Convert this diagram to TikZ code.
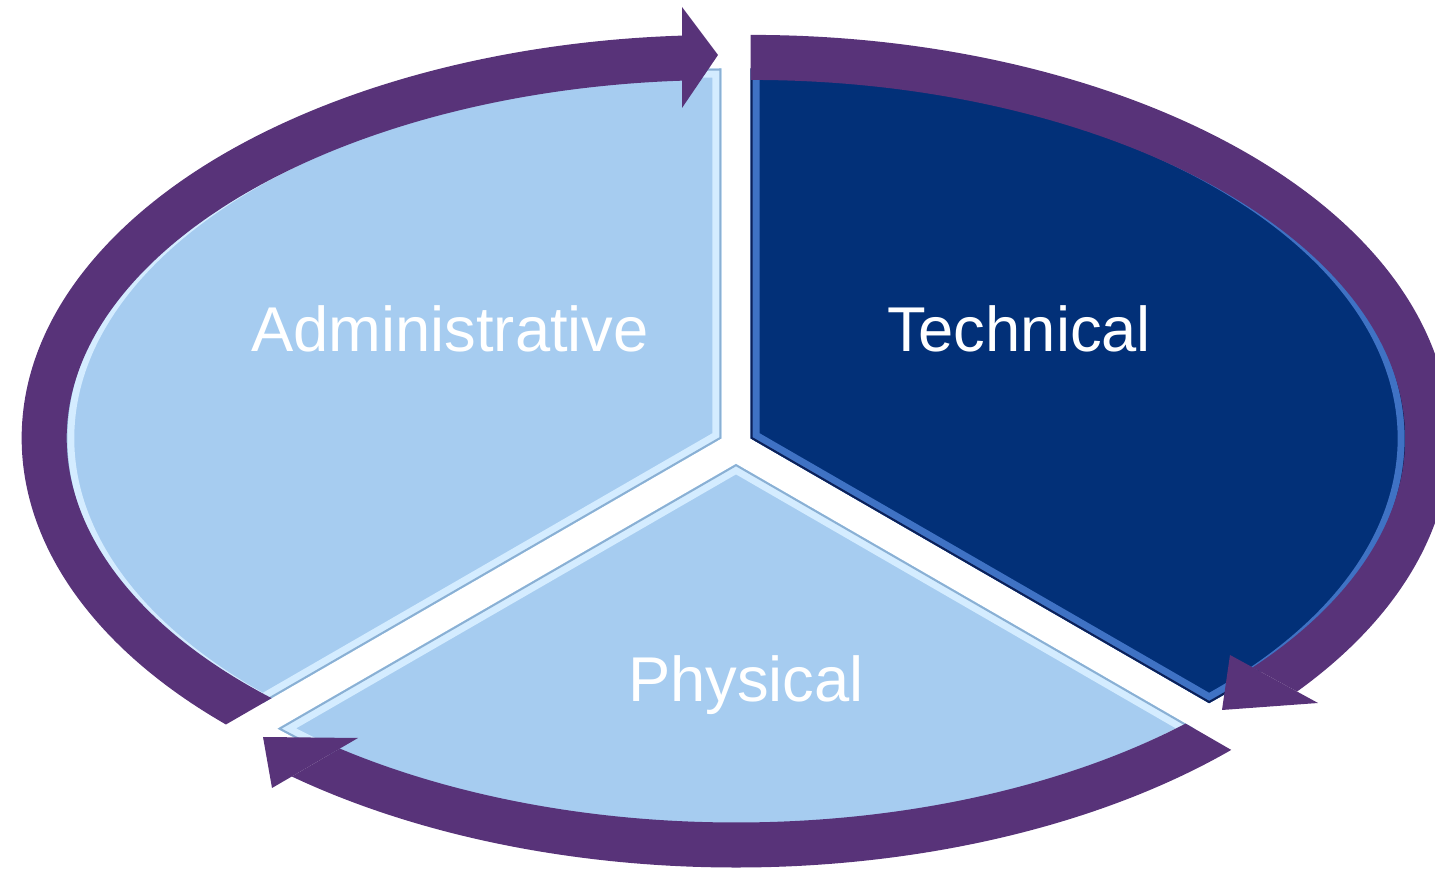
\documentclass[tikz,border=0pt]{standalone}
\usepackage{fontspec}
\setmainfont{Liberation Sans}

\definecolor{paleblue}{HTML}{A6CCF0}
\definecolor{palerim}{HTML}{D4ECFF}
\definecolor{paleedge}{HTML}{8AB0D4}
\definecolor{darkslice}{HTML}{023078}
\definecolor{darkrim}{HTML}{3F72C4}
\definecolor{darkedge}{HTML}{0B2058}
\definecolor{bandpurple}{HTML}{583379}

\tikzset{
  band/.style={bandpurple, line width=0.45cm},
  slicetext/.style={text=white, font=\fontsize{18}{21}\selectfont, anchor=base},
}

\begin{document}
\begin{tikzpicture}[x=0.01cm, y=0.01cm]
	\useasboundingbox (0,0) rectangle (1435,872);
	% the three slices, each pushed out from the middle
	\foreach \sx/\sy/\a/\b/\fc/\rc/\ec in {721.28/433.5/90/225.67/paleblue/palerim/paleedge,
	                                       750.72/433.5/-45.67/90/darkslice/darkrim/darkedge,
	                                       736/408/225.67/314.33/paleblue/palerim/paleedge}{
		\begin{scope}[shift={(\sx,\sy)}]
			\def\slicepath{(0,0) -- (\a:656 and 370) arc[start angle=\a, end angle=\b, x radius=656, y radius=370] -- cycle}
			\clip \slicepath;
			\fill[\fc] \slicepath;
			\draw[\rc, line width=0.18cm] \slicepath;
			\draw[\ec, line width=0.04cm] \slicepath;
		\end{scope}
	}
	% arrow band round the slices
	\begin{scope}
		\clip (-100,-100) rectangle (682,1000);
		\begin{scope}[shift={(721.28,433.5)}]
			\clip[rotate=30] (-3000,0) -- (3000,0) -- (3000,3000) -- (-3000,3000) -- cycle;
			\draw[band] (240:677 and 381) arc[start angle=240, end angle=90, x radius=677, y radius=381];
		\end{scope}
	\end{scope}
	\fill[bandpurple] (682,865) -- (718,817) -- (682,764) -- cycle;
	\begin{scope}
		\clip (350,697) -- (2110,-263) -- (3070,1497) -- (1310,2457) -- cycle;
		\begin{scope}[shift={(750.72,433.5)}]
			\clip (0,-3000) rectangle (3000,3000);
			\draw[band] (100:677 and 381) arc[start angle=100, end angle=-45.73, x radius=677, y radius=381];
		\end{scope}
	\end{scope}
	\fill[bandpurple] (1230,217) -- (1222,162) -- (1318,169) -- cycle;
	\begin{scope}
		\clip (1218,634) -- (-502,-366) -- (498,-2086) -- (2218,-1086) -- cycle;
		\begin{scope}[shift={(736,408)}]
			\clip[rotate=-30] (-3000,0) -- (3000,0) -- (3000,-3000) -- (-3000,-3000) -- cycle;
			\draw[band] (-35:677 and 381) arc[start angle=-35, end angle=-134.27, x radius=677, y radius=381];
		\end{scope}
	\end{scope}
	\fill[bandpurple] (358,134) -- (263,135) -- (272,84) -- cycle;
	% labels
	\node[slicetext] (admin) at (450,520) {Administrative};
	\node[slicetext] (technical) at (1019,520) {Technical};
	\node[slicetext] (physical) at (746,170) {Physical};
\end{tikzpicture}
\end{document}
